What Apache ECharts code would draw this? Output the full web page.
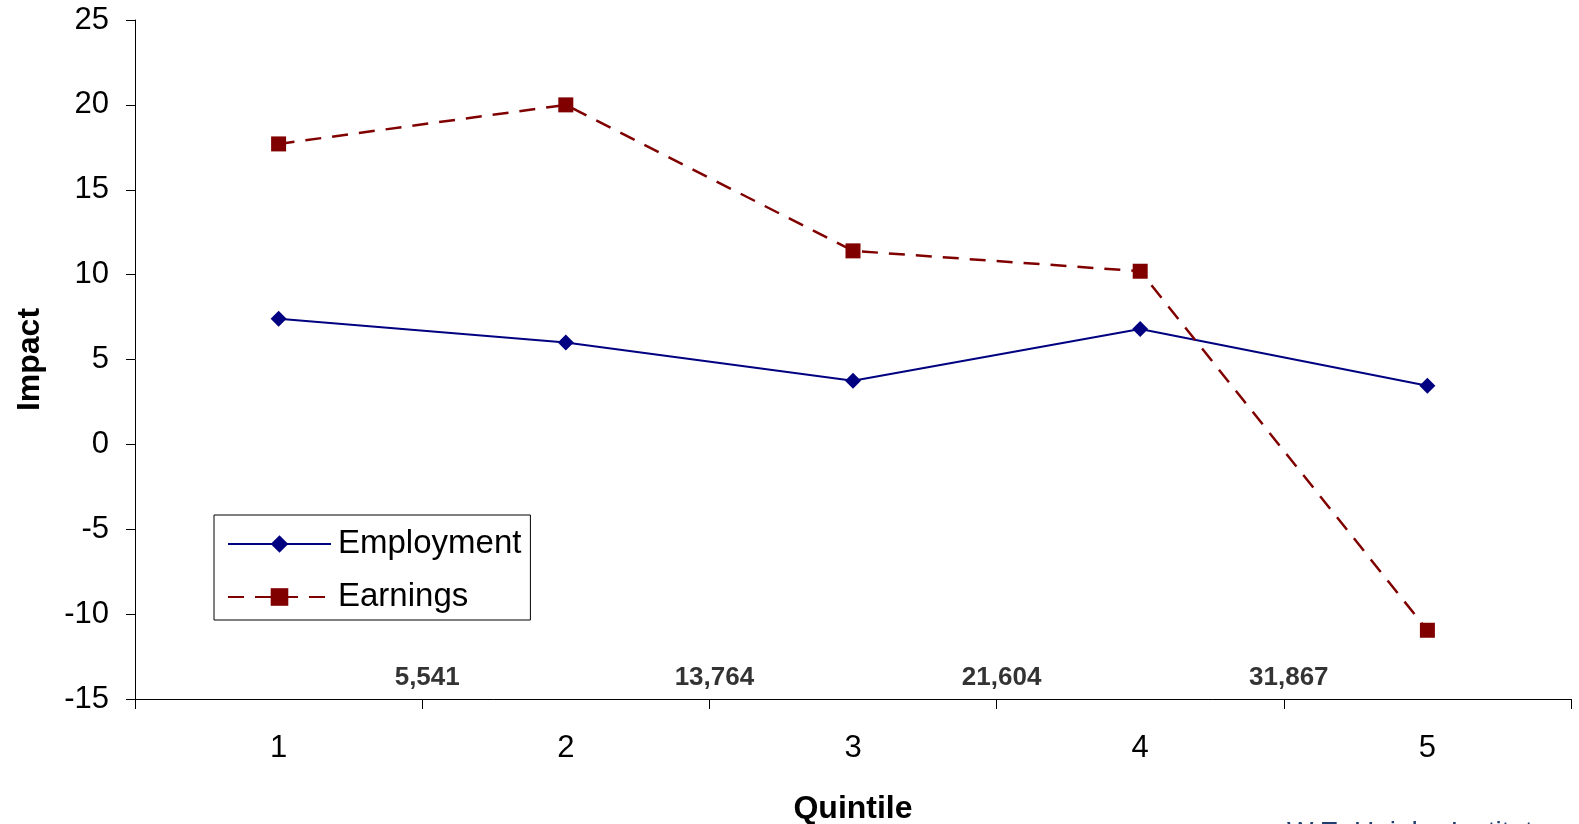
<!DOCTYPE html>
<html>
<head>
<meta charset="utf-8">
<script src="https://cdn.jsdelivr.net/npm/echarts@6/dist/echarts.min.js"></script>
<style>
html,body{margin:0;padding:0;background:#fff;}
#chart{width:1579px;height:824px;}
</style>
</head>
<body>
<div id="chart"></div>
<script>
const categories = ['1', '2', '3', '4', '5'];
const employment = [7.4, 6.0, 3.75, 6.8, 3.45];
const earnings = [17.7, 20.0, 11.4, 10.2, -10.95];
const boundaryLabels = ['5,541', '13,764', '21,604', '31,867'];
const boundaryPositions = [1, 2, 3, 4];

const FONT = 'Liberation Sans, Arial, sans-serif';
const chart = echarts.init(document.getElementById('chart'));

chart.setOption({
  animation: false,
  backgroundColor: '#ffffff',
  textStyle: { fontFamily: FONT },
  grid: { left: 135, right: 8, top: 20, bottom: 125, containLabel: false, outerBoundsMode: 'none' },
  legend: {
    orient: 'vertical',
    left: 214,
    top: 515,
    data: ['Employment', 'Earnings'],
    itemWidth: 103,
    itemHeight: 22,
    itemGap: 19,
    padding: [12, 9, 6, 13],
    borderColor: '#000',
    borderWidth: 1,
    backgroundColor: '#fff',
    textStyle: { fontSize: 33, color: '#000', fontFamily: FONT, lineHeight: 34, padding: [0, 0, 0, 2] }
  },
  xAxis: [
    {
      type: 'category',
      data: categories,
      boundaryGap: true,
      name: 'Quintile',
      nameLocation: 'middle',
      nameGap: 94,
      nameTextStyle: { fontSize: 32, fontWeight: 'bold', color: '#000', fontFamily: FONT },
      axisLine: { onZero: false, lineStyle: { color: '#000', width: 1 } },
      axisTick: { show: true, length: 10, lineStyle: { color: '#000' } },
      axisLabel: { fontSize: 31, color: '#000', margin: 34, fontFamily: FONT },
      splitLine: { show: false }
    },
    {
      type: 'value',
      min: 0,
      max: 5,
      show: false,
      position: 'bottom'
    }
  ],
  yAxis: {
    type: 'value',
    min: -15,
    max: 25,
    interval: 5,
    name: 'Impact',
    nameLocation: 'middle',
    nameGap: 89,
    nameRotate: 90,
    nameTextStyle: { fontSize: 32, fontWeight: 'bold', color: '#000', fontFamily: FONT },
    axisLine: { show: true, lineStyle: { color: '#000', width: 1 } },
    axisTick: { show: true, length: 9, lineStyle: { color: '#000' } },
    axisLabel: { fontSize: 31, color: '#000', margin: 26, fontFamily: FONT },
    splitLine: { show: false }
  },
  series: [
    {
      name: 'Employment',
      type: 'line',
      data: employment,
      symbol: 'diamond',
      symbolSize: 16,
      itemStyle: { color: '#000080' },
      lineStyle: { color: '#000080', width: 2 }
    },
    {
      name: 'Earnings',
      type: 'line',
      data: earnings,
      symbol: 'rect',
      symbolSize: 15,
      itemStyle: { color: '#800000' },
      lineStyle: { color: '#800000', width: 2.5, type: [16, 11] }
    },
    {
      name: 'boundary',
      type: 'scatter',
      xAxisIndex: 1,
      data: boundaryPositions.map((x, i) => [x, -15]),
      symbolSize: 0,
      silent: true,
      label: {
        show: true,
        position: 'inside',
        offset: [5, -21],
        formatter: p => boundaryLabels[p.dataIndex],
        fontSize: 26,
        fontWeight: 'bold',
        color: '#000',
        textBorderWidth: 0,
        fontFamily: FONT
      }
    }
  ],
  graphic: [
    {
      type: 'text',
      left: 1287,
      top: 819,
      style: { text: 'W.E. Upjohn Institute', fontSize: 28, fill: '#1f3f6f', fontFamily: FONT }
    }
  ]
});
</script>
</body>
</html>
